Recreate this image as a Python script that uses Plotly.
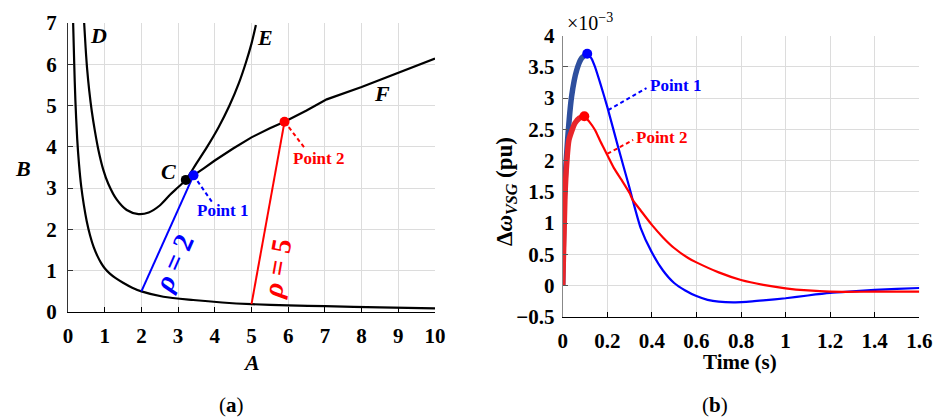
import plotly.graph_objects as go

# ---------------- Panel (a) data ----------------
lower_A = [0.14, 0.17, 0.2, 0.25, 0.3, 0.36, 0.43, 0.51, 0.6, 0.7, 0.8, 0.9, 1.0, 1.14, 1.3, 1.5, 1.75, 2.0, 2.6, 3.41, 4.2, 5.0, 6.0, 7.0, 8.5, 10.0]
lower_B = [7.0, 6.0, 5.15, 4.2, 3.58, 3.04, 2.6, 2.2, 1.86, 1.57, 1.36, 1.19, 1.06, 0.93, 0.82, 0.71, 0.59, 0.5, 0.37, 0.29, 0.23, 0.19, 0.16, 0.14, 0.11, 0.09]

DE_A = [0.44, 0.48, 0.52, 0.58, 0.65, 0.73, 0.83, 0.96, 1.1, 1.33, 1.6, 1.92, 2.2, 2.5, 2.78, 3.0, 3.21, 3.5, 3.79, 4.1, 4.4, 4.65, 4.85, 5.0, 5.12]
DE_B = [7.0, 6.4, 5.9, 5.35, 4.85, 4.4, 3.92, 3.45, 3.1, 2.72, 2.47, 2.37, 2.41, 2.58, 2.84, 3.02, 3.2, 3.6, 4.0, 4.47, 5.0, 5.53, 6.05, 6.5, 6.95]

F_A = [3.21, 3.42, 3.7, 4.0, 4.5, 5.0, 5.5, 5.9, 6.5, 7.05, 8.0, 8.5, 9.0, 10.0]
F_B = [3.2, 3.31, 3.48, 3.67, 3.96, 4.23, 4.45, 4.61, 4.88, 5.15, 5.45, 5.62, 5.79, 6.14]

point_C = (3.21, 3.2)
point1_a = (3.42, 3.31)
point2_a = (5.9, 4.61)
rho2_A = [2.0, 3.42]
rho2_B = [0.5, 3.31]
rho5_A = [5.0, 5.9]
rho5_B = [0.19, 4.61]
lead1_a_A = [3.42, 3.92]
lead1_a_B = [3.31, 2.67]
lead2_a_A = [5.9, 6.46]
lead2_a_B = [4.61, 3.96]

a_xticks = list(range(0, 11))
a_yticks = list(range(0, 8))

# ---------------- Panel (b) data ----------------
t_b1_thick = [0, 0.0075, 0.022, 0.04, 0.063, 0.085, 0.11]
w_b1_thick = [0, 1.42, 2.33, 3.03, 3.45, 3.64, 3.71]
t_b1 = [0.11, 0.13, 0.145, 0.17, 0.2, 0.25, 0.3, 0.314, 0.35, 0.4, 0.45, 0.5, 0.55, 0.6, 0.65, 0.7, 0.775, 0.85, 0.9, 1.0, 1.1, 1.2, 1.3, 1.4, 1.5, 1.6]
w_b1 = [3.71, 3.63, 3.5, 3.22, 2.86, 2.2, 1.56, 1.37, 0.92, 0.53, 0.24, 0.04, -0.08, -0.17, -0.23, -0.26, -0.27, -0.255, -0.24, -0.205, -0.16, -0.12, -0.095, -0.072, -0.055, -0.04]

t_b2_thick = [0, 0.01, 0.018, 0.028, 0.055, 0.075, 0.097]
w_b2_thick = [0, 1.42, 1.96, 2.33, 2.6, 2.68, 2.71]
t_b2 = [0.097, 0.12, 0.145, 0.17, 0.2, 0.23, 0.264, 0.3, 0.314, 0.35, 0.4, 0.45, 0.5, 0.563, 0.6, 0.7, 0.8, 0.9, 1.0, 1.1, 1.2, 1.4, 1.6]
w_b2 = [2.71, 2.62, 2.49, 2.3, 2.09, 1.88, 1.69, 1.48, 1.37, 1.2, 0.97, 0.77, 0.6, 0.44, 0.37, 0.21, 0.088, 0.01, -0.045, -0.08, -0.1, -0.1, -0.1]

lead1_b_t = [0.204, 0.376]
lead1_b_w = [2.81, 3.16]
lead2_b_t = [0.201, 0.316]
lead2_b_w = [2.11, 2.33]

b_xticks = [0, 0.2, 0.4, 0.6, 0.8, 1.0, 1.2, 1.4, 1.6]
b_xlabels = ["0", "0.2", "0.4", "0.6", "0.8", "1", "1.2", "1.4", "1.6"]
b_yticks = [-0.5, 0, 0.5, 1, 1.5, 2, 2.5, 3, 3.5, 4]
b_ylabels = ["\u22120.5", "0", "0.5", "1", "1.5", "2", "2.5", "3", "3.5", "4"]

SERIF = "Liberation Serif"
BLACK = "#000000"
BLUE = "#0000ff"
RED = "#ff0000"
BLUE_THICK = "#2e4f9e"
RED_THICK = "#e8262a"

W, H = 940, 419
fig = go.Figure()

def line(x, y, color, width, xa="x", ya="y", dash=None, shape="linear", smoothing=1.0):
    ln = dict(color=color, width=width, dash=dash, shape=shape)
    if shape == "spline":
        ln["smoothing"] = smoothing
    fig.add_trace(go.Scatter(x=x, y=y, mode="lines", xaxis=xa, yaxis=ya, line=ln,
                             hoverinfo="skip", showlegend=False))

def dot(x, y, color, size, xa="x", ya="y"):
    fig.add_trace(go.Scatter(x=[x], y=[y], mode="markers", xaxis=xa, yaxis=ya,
                             marker=dict(color=color, size=size), hoverinfo="skip",
                             showlegend=False, cliponaxis=False))

# Panel (a)
line(lower_A, lower_B, BLACK, 2.2, shape="spline", smoothing=0.8)
line(DE_A, DE_B, BLACK, 2.2, shape="spline", smoothing=0.8)
line(F_A, F_B, BLACK, 2.2)
line(rho2_A, rho2_B, BLUE, 2)
line(rho5_A, rho5_B, RED, 2)
line(lead1_a_A, lead1_a_B, BLUE, 2, dash="4px,3px")
line(lead2_a_A, lead2_a_B, RED, 2, dash="4px,3px")
dot(*point_C, BLACK, 10)
dot(*point1_a, BLUE, 10)
dot(*point2_a, RED, 10)

# Panel (b)
line(t_b1, w_b1, BLUE, 2.2, "x2", "y2", shape="spline", smoothing=0.6)
line(t_b2, w_b2, RED, 2.2, "x2", "y2", shape="spline", smoothing=0.6)
line(t_b1_thick, w_b1_thick, BLUE_THICK, 5.5, "x2", "y2", shape="spline", smoothing=0.6)
line(t_b2_thick, w_b2_thick, RED_THICK, 5.5, "x2", "y2", shape="spline", smoothing=0.6)
line(lead1_b_t, lead1_b_w, BLUE, 2, "x2", "y2", dash="4px,3px")
line(lead2_b_t, lead2_b_w, RED, 2, "x2", "y2", dash="4px,3px")
dot(t_b1_thick[-1], w_b1_thick[-1], BLUE, 10, "x2", "y2")
dot(t_b2_thick[-1], w_b2_thick[-1], RED, 10, "x2", "y2")

tickfont = dict(family=SERIF, size=21, color=BLACK, weight="bold")
axis_common = dict(showgrid=True, gridcolor="#dcdcdc", gridwidth=1, zeroline=False,
                   showline=True, linewidth=1.2, ticks="inside", ticklen=5,
                   tickfont=tickfont, fixedrange=True, mirror=False, automargin=False)

fig.update_layout(
    width=W, height=H, margin=dict(l=0, r=0, t=0, b=0, pad=0, autoexpand=False),
    paper_bgcolor="white", plot_bgcolor="white", showlegend=False,
    xaxis=dict(domain=[68 / W, 435 / W], range=[0, 10], tickvals=a_xticks,
               linecolor=BLACK, tickcolor=BLACK, anchor="y", ticklabelstandoff=5, **axis_common),
    yaxis=dict(domain=[(H - 312) / H, (H - 23) / H], range=[0, 7], tickvals=a_yticks,
               linecolor="#333333", tickcolor="#333333", anchor="x", ticklabelstandoff=6, **axis_common),
    xaxis2=dict(domain=[562.7 / W, 919.3 / W], range=[0, 1.6], tickvals=b_xticks, ticktext=b_xlabels,
                linecolor=BLACK, tickcolor=BLACK, anchor="y2", ticklabelstandoff=5, **axis_common),
    yaxis2=dict(domain=[(H - 316.7) / H, (H - 35.7) / H], range=[-0.5, 4], tickvals=b_yticks, ticktext=b_ylabels,
                linecolor="#888888", tickcolor="#555555", anchor="x2", ticklabelstandoff=3, **axis_common),
)

ann = []
def text(x, y, s, size, color=BLACK, xref="x", yref="y", angle=0, xanchor="center", yanchor="middle", weight="bold"):
    ann.append(dict(x=x, y=y, xref=xref, yref=yref, text=s, showarrow=False, textangle=angle,
                    xanchor=xanchor, yanchor=yanchor,
                    font=dict(family=SERIF, size=size, color=color, weight=weight)))

# Panel (a) labels
text(0.83, 6.7, "<i>D</i>", 22)
text(5.37, 6.64, "<i>E</i>", 22)
text(8.55, 5.3, "<i>F</i>", 22)
text(2.73, 3.4, "<i>C</i>", 22)
text(4.2, 2.47, "Point 1", 17, BLUE)
text(6.82, 3.72, "Point 2", 17, RED)
text(2.87, 1.18, "<i>ρ</i> = 2", 28, BLUE, angle=-66)
text(5.69, 1.06, "<i>ρ</i> = 5", 28, RED, angle=-80)

# Panel (b) labels
text(0.381, 3.21, "Point 1", 17, BLUE, "x2", "y2", xanchor="left")
text(0.321, 2.37, "Point 2", 17, RED, "x2", "y2", xanchor="left")

# Axis titles (paper coords)
text(23 / W, 1 - 168 / H, "<i>B</i>", 22, xref="paper", yref="paper")
text(251 / W, 1 - 362 / H, "<i>A</i>", 22, xref="paper", yref="paper")
text(740 / W, 1 - 362 / H, "Time (s)", 21, xref="paper", yref="paper")
text(506 / W, 1 - 192 / H, "Δ<i>ω</i><sub><i>VSG</i></sub> (pu)", 23, xref="paper", yref="paper", angle=-90)
text(590 / W, 1 - 22 / H, "×10<sup>−3</sup>", 20, xref="paper", yref="paper", weight="normal")

# Captions
text(231 / W, 1 - 405 / H, "(<b>a</b>)", 21, xref="paper", yref="paper", weight="normal")
text(715 / W, 1 - 405 / H, "(<b>b</b>)", 21, xref="paper", yref="paper", weight="normal")

fig.update_layout(annotations=ann)
fig.write_html("out.html")
